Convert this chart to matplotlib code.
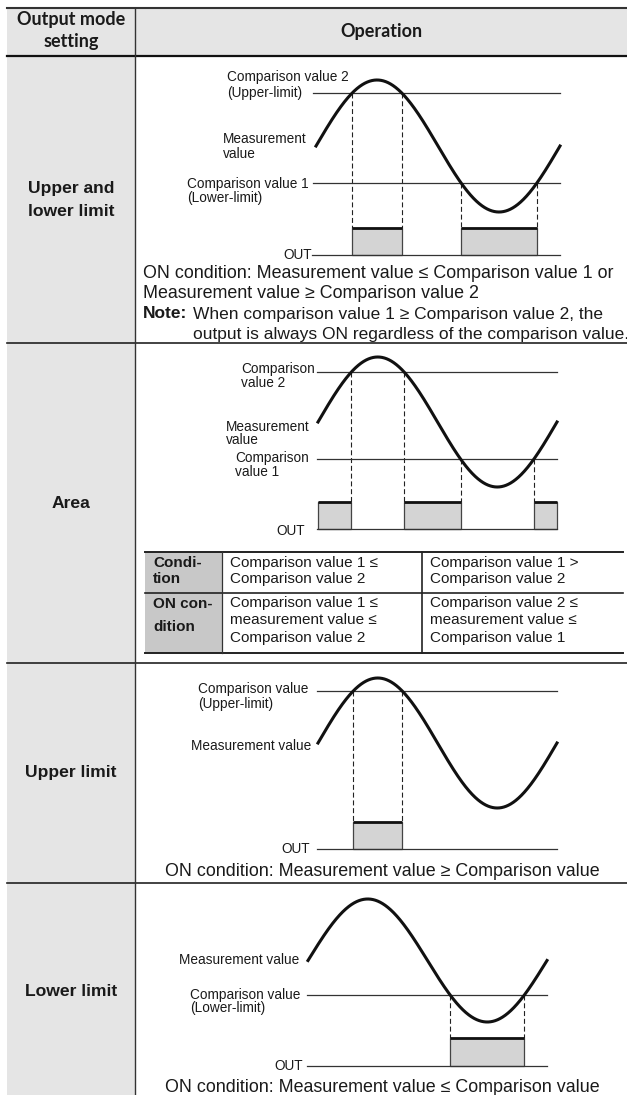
import numpy as np
import matplotlib
matplotlib.use("Agg")
import matplotlib.pyplot as plt
from matplotlib.patches import Rectangle

plt.rcParams['font.family'] = ['Liberation Sans', 'DejaVu Sans']

W, H = 627, 1095

# ---------------- data ----------------
header_left = ["Output mode", "setting"]
header_right = "Operation"
mode_labels = [["Upper and", "lower limit"], ["Area"], ["Upper limit"], ["Lower limit"]]

# schematic measurement signal: one period of a sine wave
phase = np.linspace(0, 1, 4001)
measurement = np.sin(2 * np.pi * phase)

# comparison levels (in units of the wave amplitude)
ul_upper, ul_lower = 0.80, -0.56       # Upper and lower limit
area_upper, area_lower = 0.77, -0.57   # Area
ulim_level = 0.80                      # Upper limit
llim_level = -0.56                     # Lower limit

table_cond = ["Condi-", "tion"]
table_on = ["ON con-", "dition"]
cond_le = ["Comparison value 1 \u2264", "Comparison value 2"]
cond_gt = ["Comparison value 1 >", "Comparison value 2"]
on_le = ["Comparison value 1 \u2264", "measurement value \u2264", "Comparison value 2"]
on_gt = ["Comparison value 2 \u2264", "measurement value \u2264", "Comparison value 1"]

# ---------------- figure ----------------
fig = plt.figure(figsize=(W / 100, H / 100), dpi=100)
bg = fig.add_axes([0, 0, 1, 1])
bg.set_xlim(0, W)
bg.set_ylim(H, 0)
bg.axis('off')

GRAY = '#e5e5e5'
INK = '#1a1a1a'
bg.add_patch(Rectangle((7, 8), 128, H - 8, fc=GRAY, ec='none'))
bg.add_patch(Rectangle((135, 8), W - 135, 48, fc=GRAY, ec='none'))
bg.plot([7, W], [8, 8], color='#333', lw=1.5)
bg.plot([7, W], [56, 56], color='#111', lw=1.6)
for yy in [343, 663, 883]:
    bg.plot([7, W], [yy, yy], color='#222', lw=1.2)
bg.plot([135, 135], [8, H], color='#333', lw=1.0)

# header
hfont = dict(family=['Lato', 'Liberation Sans'], fontweight='bold', fontsize=13, color=INK)
bg.text(71, 19, header_left[0], ha='center', va='center', **hfont)
bg.text(71, 42, header_left[1], ha='center', va='center', **hfont)
bg.text(381, 31, header_right, ha='center', va='center', **hfont)

# row labels
rfont = dict(fontweight='bold', fontsize=12.6, color=INK)
row_y = [[188, 211], [503], [772], [991]]
for labs, ys in zip(mode_labels, row_y):
    for lab_, yy in zip(labs, ys):
        bg.text(71, yy, lab_, ha='center', va='center', **rfont)

LFS = 9.8
BFS = 12.85
NFS = 12.5


def lab(x, y, s, ha='left', fs=LFS, **kw):
    bg.text(x, y, s, ha=ha, va='center', fontsize=fs, color=INK, **kw)


def panel(x0, x1, cy, amp, top, bottom, left=290, right=575):
    ax = fig.add_axes([left / W, 1 - bottom / H, (right - left) / W, (bottom - top) / H])
    ax.set_xlim((left - x0) / (x1 - x0), (right - x0) / (x1 - x0))
    ax.set_ylim((cy - bottom) / amp, (cy - top) / amp)
    ax.axis('off')
    ax.patch.set_alpha(0)
    fx = lambda px: (px - x0) / (x1 - x0)
    fy = lambda py: (cy - py) / amp
    return ax, fx, fy


def draw(ax, fx, fy, levels, on_mask, line_x0, base_x0, out_base, out_high):
    b, h = fy(out_base), fy(out_high)
    m = on_mask.astype(int)
    d = np.diff(m)
    starts = list(np.where(d == 1)[0] + 1)
    ends = list(np.where(d == -1)[0])
    if m[0]:
        starts = [0] + starts
    if m[-1]:
        ends = ends + [len(m) - 1]
    for s, e in zip(starts, ends):
        ts, te = phase[s], phase[e]
        ax.add_patch(Rectangle((ts, b), te - ts, h - b, fc='#d4d4d4', ec='#444', lw=0.9, zorder=2))
        ax.plot([ts, te], [h, h], color='#111', lw=2.0, solid_capstyle='butt', zorder=3)
        for t, idx in ((ts, s), (te, e)):
            if 0 < idx < len(m) - 1:
                ax.plot([t, t], [measurement[idx], h], color='#222', lw=0.8,
                        ls=(0, (4.5, 2.5)), zorder=1)
    for lv in levels:
        ax.plot([fx(line_x0), 1], [lv, lv], color='#333', lw=0.9, zorder=1)
    ax.plot([fx(base_x0), 1], [b, b], color='#333', lw=0.9, zorder=4)
    ax.plot(phase, measurement, color='#111', lw=2.2, zorder=5)


# ---- Panel 1: upper and lower limit
ax, fx, fy = panel(316, 560, 146, 66, 70, 262)
draw(ax, fx, fy, [ul_upper, ul_lower],
     (measurement >= ul_upper) | (measurement <= ul_lower), 313, 312, 255, 228)
lab(227, 77, "Comparison value 2")
lab(227, 93, "(Upper-limit)")
lab(223, 139, "Measurement")
lab(223, 154, "value")
lab(187, 184, "Comparison value 1")
lab(187, 198, "(Lower-limit)")
lab(312, 255, "OUT", ha='right')
lab(143, 273, "ON condition: Measurement value \u2264 Comparison value 1 or", fs=BFS)
lab(143, 294, "Measurement value \u2265 Comparison value 2", fs=BFS)
lab(143, 314, "Note:", fs=NFS, fontweight='bold')
lab(193, 314, "When comparison value 1 \u2265 Comparison value 2, the", fs=NFS)
lab(193, 334, "output is always ON regardless of the comparison value.", fs=NFS)

# ---- Panel 2: area
ax, fx, fy = panel(318, 557, 422, 65, 350, 536)
draw(ax, fx, fy, [area_upper, area_lower],
     (measurement <= area_upper) & (measurement >= area_lower), 317, 317, 529, 502)
lab(241, 369, "Comparison")
lab(241, 383, "value 2")
lab(226, 427, "Measurement")
lab(226, 440, "value")
lab(235, 458, "Comparison")
lab(235, 472, "value 1")
lab(305, 531, "OUT", ha='right')

# area table
bg.add_patch(Rectangle((145, 552), 77, 101, fc='#c8c8c8', ec='none'))
bg.plot([145, 623], [552, 552], color='#222', lw=1.4)
bg.plot([145, 623], [593, 593], color='#222', lw=1.2)
bg.plot([145, 623], [653, 653], color='#222', lw=1.4)
bg.plot([222, 222], [552, 653], color='#333', lw=0.9)
bg.plot([422, 422], [552, 653], color='#222', lw=1.2)
TFS = 11
for s, yy in zip(table_cond, [563, 579]):
    lab(153, yy, s, fs=TFS, fontweight='bold')
for s, yy in zip(table_on, [604, 627]):
    lab(153, yy, s, fs=TFS, fontweight='bold')
for s, yy in zip(cond_le, [563, 579]):
    lab(230, yy, s, fs=TFS)
for s, yy in zip(cond_gt, [563, 579]):
    lab(430, yy, s, fs=TFS)
for s, yy in zip(on_le, [603, 620.5, 638]):
    lab(230, yy, s, fs=TFS)
for s, yy in zip(on_gt, [603, 620.5, 638]):
    lab(430, yy, s, fs=TFS)

# ---- Panel 3: upper limit
ax, fx, fy = panel(318, 557, 743, 65, 670, 856)
draw(ax, fx, fy, [ulim_level], measurement >= ulim_level, 317, 317, 849, 822)
lab(198, 689, "Comparison value")
lab(198, 704, "(Upper-limit)")
lab(191, 746, "Measurement value")
lab(310, 849, "OUT", ha='right')
lab(165, 872, "ON condition: Measurement value \u2265 Comparison value", fs=BFS)

# ---- Panel 4: lower limit
ax, fx, fy = panel(308, 547, 960.5, 61.5, 890, 1073)
draw(ax, fx, fy, [llim_level], measurement <= llim_level, 307, 307, 1066, 1038)
lab(179, 960, "Measurement value")
lab(190, 995, "Comparison value")
lab(190, 1008, "(Lower-limit)")
lab(303, 1066, "OUT", ha='right')
lab(165, 1088, "ON condition: Measurement value \u2264 Comparison value", fs=BFS)

fig.savefig("out.png", dpi=100)
